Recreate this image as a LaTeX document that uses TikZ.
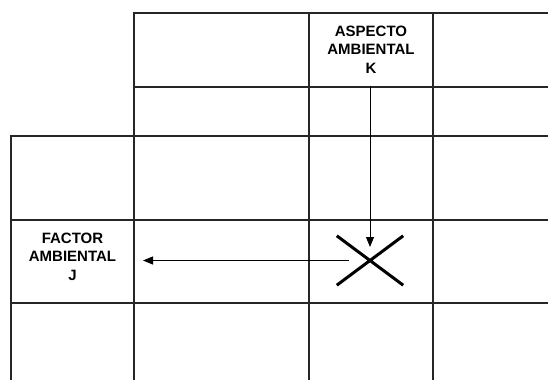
\documentclass[tikz,border=0pt]{standalone}
\usepackage{fontspec}
\setmainfont{Liberation Sans}
\usetikzlibrary{arrows.meta,positioning}

\begin{document}
\begin{tikzpicture}[x=1pt,y=-1pt,
  grid/.style={line width=1.2pt,black!85},
  rotulo/.style={align=center,inner sep=0pt,font=\fontsize{15}{18.5}\selectfont\bfseries},
  flecha/.style={line width=0.9pt,-{Triangle[length=10pt,width=8pt]}},
  cruz/.style={minimum width=66pt,minimum height=49pt,inner sep=0pt}]
  \useasboundingbox (0,0) rectangle (548,380);
  % rejilla de la matriz
  \draw[grid] (134,380) -- (134,13) -- (548,13);
  \draw[grid] (309,13) -- (309,380);
  \draw[grid] (433,13) -- (433,380);
  \draw[grid] (11,380) -- (11,136) -- (548,136);
  \draw[grid] (134,87) -- (548,87);
  \draw[grid] (11,220) -- (548,220);
  \draw[grid] (11,303) -- (548,303);
  % textos
  \node[rotulo] (aspK) at (371,49.5) {ASPECTO\\AMBIENTAL\\K};
  \node[rotulo] (facJ) at (72.5,256.5) {FACTOR\\AMBIENTAL\\J};
  \node[cruz] (cruce) at (370,260.5) {};
  \draw[line width=3pt] (cruce.north west) -- (cruce.south east)
    (cruce.north east) -- (cruce.south west);
  \coordinate (iniK) at (370,86);
  \coordinate (finJ) at (143,260.5);
  \path
  (iniK) edge [flecha,shorten >=13.5pt] (cruce.center)
  (cruce.center) edge [flecha,shorten <=21pt] (finJ)
  ;
\end{tikzpicture}
\end{document}
